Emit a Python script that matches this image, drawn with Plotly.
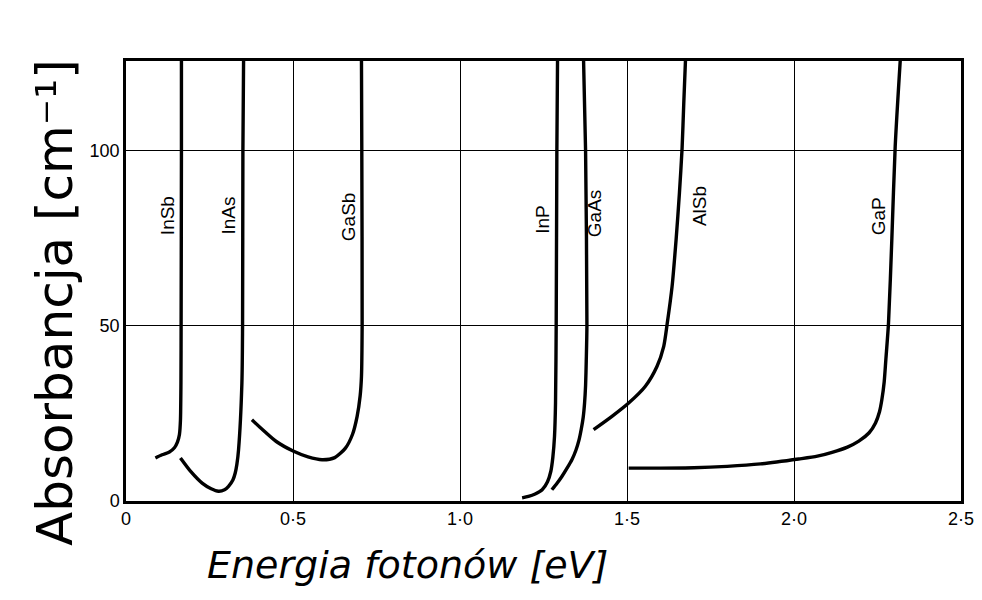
import plotly.graph_objects as go

# Data (photon energy [eV], absorbance)
Y_TOP = 125.7
insb_x = [0.088, 0.108, 0.130, 0.145, 0.154, 0.160, 0.163, 0.1645, 0.165, 0.166, 0.166]
insb_y = [12.3, 13.2, 14.0, 15.2, 16.8, 19.0, 23.0, 33.7, 50.0, 100.0, Y_TOP]

inas_x = [0.163, 0.195, 0.228, 0.255, 0.277, 0.295, 0.307, 0.320, 0.327, 0.332, 0.337, 0.347, 0.349, 0.350, 0.352]
inas_y = [12.3, 8.3, 5.1, 3.5, 2.8, 3.2, 4.2, 6.0, 8.0, 10.5, 14.7, 33.7, 50.0, 100.0, Y_TOP]

gasb_x = [0.377, 0.410, 0.450, 0.502, 0.545, 0.587, 0.625, 0.657, 0.678, 0.692, 0.701, 0.705, 0.707, 0.706, 0.705]
gasb_y = [23.2, 20.3, 17.0, 14.2, 12.6, 11.8, 12.4, 15.1, 19.0, 24.2, 30.0, 35.6, 50.1, 100.0, Y_TOP]

inp_x = [1.186, 1.205, 1.225, 1.246, 1.262, 1.272, 1.278, 1.283, 1.286, 1.288, 1.290, 1.292]
inp_y = [0.9, 1.3, 2.0, 3.2, 5.5, 8.5, 12.5, 18.5, 28.0, 50.1, 100.0, Y_TOP]

gaas_x = [1.275, 1.290, 1.305, 1.320, 1.335, 1.347, 1.356, 1.363, 1.369, 1.373, 1.376, 1.378, 1.380, 1.376, 1.370]
gaas_y = [3.2, 5.0, 7.0, 9.3, 11.8, 14.5, 17.3, 20.5, 24.0, 28.0, 33.0, 40.0, 50.1, 100.0, Y_TOP]

alsb_x = [1.400, 1.455, 1.505, 1.555, 1.590, 1.610, 1.620, 1.635, 1.647, 1.657, 1.665, 1.670, 1.675]
alsb_y = [20.4, 24.2, 28.0, 32.8, 38.5, 44.2, 50.4, 61.3, 74.7, 88.0, 100.9, 113.7, Y_TOP]

gap_x = [1.505, 1.600, 1.700, 1.800, 1.900, 2.014, 2.070, 2.114, 2.160, 2.194, 2.225, 2.244, 2.256, 2.263, 2.270, 2.275, 2.283, 2.293, 2.303, 2.318]
gap_y = [9.4, 9.4, 9.5, 9.9, 10.6, 12.0, 12.8, 13.9, 15.4, 17.1, 19.5, 22.3, 25.5, 28.9, 34.0, 40.4, 50.9, 75.0, 101.3, Y_TOP]

series = [
    ("InSb", insb_x, insb_y),
    ("InAs", inas_x, inas_y),
    ("GaSb", gasb_x, gasb_y),
    ("InP", inp_x, inp_y),
    ("GaAs", gaas_x, gaas_y),
    ("AlSb", alsb_x, alsb_y),
    ("GaP", gap_x, gap_y),
]

label_names = ["InSb", "InAs", "GaSb", "InP", "GaAs", "AlSb", "GaP"]
label_x = [0.123, 0.307, 0.667, 1.246, 1.405, 1.715, 2.254]
label_y = [81.4, 81.4, 81.3, 80.4, 82.3, 84.2, 81.3]

x_tickvals = [0, 0.5, 1.0, 1.5, 2.0, 2.5]
x_ticktext = ["0", "0·5", "1·0", "1·5", "2·0", "2·5"]
y_tickvals = [0, 50, 100]
y_ticktext = ["0", "50", "100"]

fig = go.Figure()
for name, xs, ys in series:
    fig.add_trace(go.Scatter(
        x=xs, y=ys, mode="lines", name=name,
        line=dict(color="black", width=3.4, shape="spline", smoothing=0.7),
        showlegend=False, hoverinfo="skip",
    ))

for name, lx, ly in zip(label_names, label_x, label_y):
    fig.add_annotation(x=lx, y=ly, text=name, showarrow=False, textangle=-90,
                       font=dict(family="Liberation Sans, Arial", size=19, color="black"))

fig.add_annotation(xref="paper", yref="paper", x=-0.085, y=0.45, text="Absorbancja [cm⁻¹]",
                   showarrow=False, textangle=-90, xanchor="center", yanchor="middle",
                   font=dict(family="DejaVu Sans", size=50, color="black"))
fig.add_annotation(xref="paper", yref="paper", x=0.095, y=-0.145, text="<i>Energia fotonów [eV]</i>",
                   showarrow=False, xanchor="left", yanchor="middle",
                   font=dict(family="DejaVu Sans", size=38, color="black"))

fig.update_xaxes(range=[0, 2.5], tickvals=x_tickvals, ticktext=x_ticktext,
                 showgrid=True, gridcolor="black", gridwidth=1.3, zeroline=False,
                 showline=True, linecolor="black", linewidth=2.5, mirror=True,
                 ticks="", tickfont=dict(family="Liberation Sans, Arial", size=18, color="black"))
fig.update_yaxes(range=[0, Y_TOP], tickvals=y_tickvals, ticktext=y_ticktext,
                 showgrid=True, gridcolor="black", gridwidth=1.3, zeroline=False,
                 showline=True, linecolor="black", linewidth=2.5, mirror=True,
                 ticks="", tickfont=dict(family="Liberation Sans, Arial", size=18, color="black"))

fig.update_layout(width=982, height=600, plot_bgcolor="white", paper_bgcolor="white",
                  margin=dict(l=118, r=29, t=53, b=107))

fig.write_html("out.html")
